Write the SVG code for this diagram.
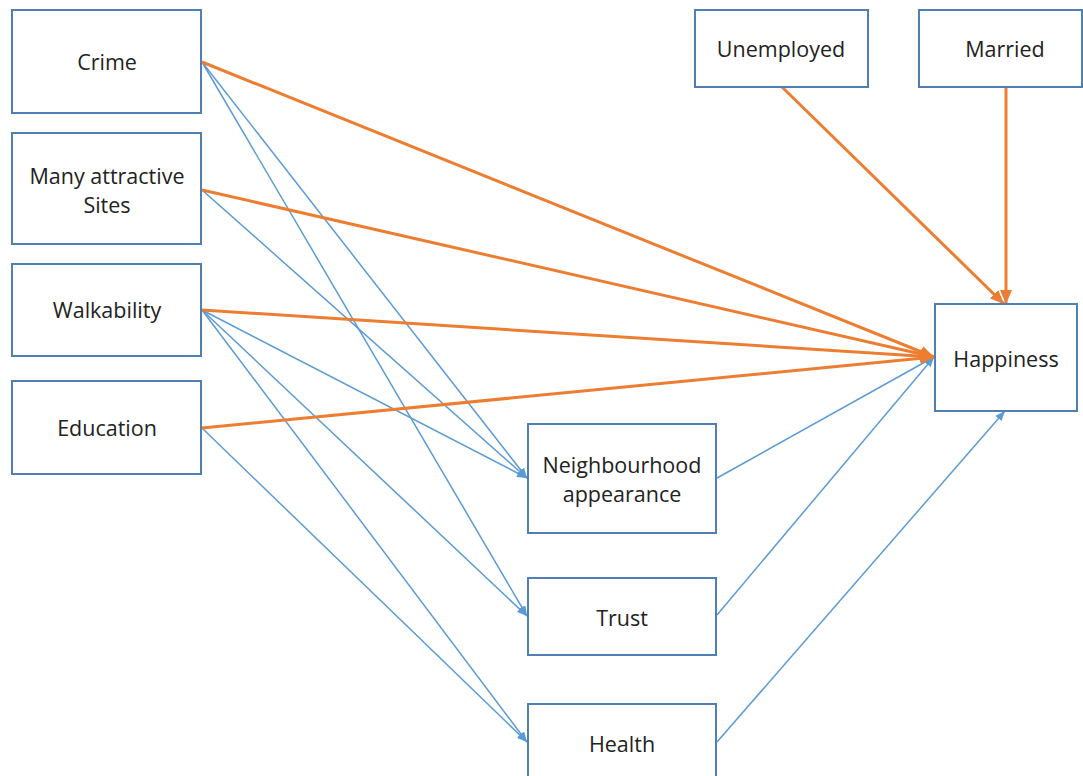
<svg xmlns="http://www.w3.org/2000/svg" width="1083" height="776" viewBox="0 0 1083 776">
<style>
.box{fill:#fff;stroke:#4f7fb5;stroke-width:2}
.t{font-family:"Open Sans","Noto Sans",sans-serif;font-size:21.5px;fill:#222;text-anchor:middle}
.o{stroke:#ed7d31;stroke-width:3;fill:none}
.b{stroke:#5b9bd5;stroke-width:1.5;fill:none}
</style>
<defs>
<marker id="ao" markerUnits="userSpaceOnUse" viewBox="0 0 14 12" refX="14" refY="6" markerWidth="14" markerHeight="12" orient="auto"><path d="M0,0 L14,6 L0,12 z" fill="#ed7d31"/></marker>
<marker id="ab" markerUnits="userSpaceOnUse" viewBox="0 0 10 8" refX="10" refY="4" markerWidth="10" markerHeight="8" orient="auto"><path d="M0,0 L10,4 L0,8 z" fill="#5b9bd5"/></marker>
</defs>
<rect width="1083" height="776" fill="#fff"/>
<g id="connectors">
<line class="b" x1="202" y1="62" x2="527" y2="478" marker-end="url(#ab)"/>
<line class="b" x1="202" y1="62" x2="527" y2="616" marker-end="url(#ab)"/>
<line class="b" x1="202" y1="190" x2="527" y2="478" marker-end="url(#ab)"/>
<line class="b" x1="202" y1="310" x2="527" y2="478" marker-end="url(#ab)"/>
<line class="b" x1="202" y1="310" x2="527" y2="616" marker-end="url(#ab)"/>
<line class="b" x1="202" y1="310" x2="527" y2="742" marker-end="url(#ab)"/>
<line class="b" x1="202" y1="428" x2="527" y2="742" marker-end="url(#ab)"/>
<line class="b" x1="717" y1="478" x2="934" y2="357" marker-end="url(#ab)"/>
<line class="b" x1="717" y1="615" x2="934" y2="357" marker-end="url(#ab)"/>
<line class="b" x1="717" y1="742" x2="1005" y2="411" marker-end="url(#ab)"/>
<line class="o" x1="202" y1="62" x2="934" y2="357" marker-end="url(#ao)"/>
<line class="o" x1="202" y1="190" x2="934" y2="357" marker-end="url(#ao)"/>
<line class="o" x1="202" y1="310" x2="934" y2="357" marker-end="url(#ao)"/>
<line class="o" x1="202" y1="428" x2="934" y2="357" marker-end="url(#ao)"/>
<line class="o" x1="782" y1="87" x2="1004" y2="304" marker-end="url(#ao)"/>
<line class="o" x1="1006" y1="87" x2="1006" y2="304" marker-end="url(#ao)"/>
</g>
<g id="crime"><rect class="box" x="12" y="10" width="189" height="103"/><text class="t" x="107" y="70">Crime</text></g>
<g id="sites"><rect class="box" x="12" y="133" width="189" height="111"/><text class="t" x="107" y="184">Many attractive</text><text class="t" x="107" y="213">Sites</text></g>
<g id="walkability"><rect class="box" x="12" y="264" width="189" height="92"/><text class="t" x="107" y="318">Walkability</text></g>
<g id="education"><rect class="box" x="12" y="381" width="189" height="93"/><text class="t" x="107" y="436">Education</text></g>
<g id="unemployed"><rect class="box" x="695" y="10" width="173" height="77"/><text class="t" x="781" y="57">Unemployed</text></g>
<g id="married"><rect class="box" x="919" y="10" width="163" height="77"/><text class="t" x="1005" y="57">Married</text></g>
<g id="happiness"><rect class="box" x="935" y="304" width="142" height="107"/><text class="t" x="1006" y="367">Happiness</text></g>
<g id="neighbourhood"><rect class="box" x="528" y="424" width="188" height="109"/><text class="t" x="622" y="473">Neighbourhood</text><text class="t" x="622" y="502">appearance</text></g>
<g id="trust"><rect class="box" x="528" y="578" width="188" height="77"/><text class="t" x="622" y="626">Trust</text></g>
<g id="health"><rect class="box" x="528" y="704" width="188" height="80"/><text class="t" x="622" y="752">Health</text></g>
</svg>
